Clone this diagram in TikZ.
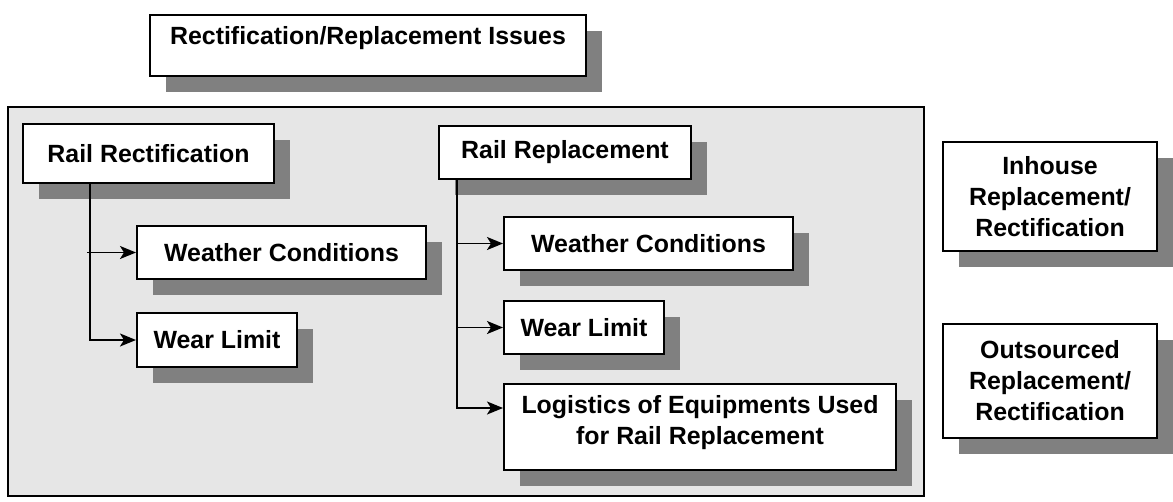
\documentclass[tikz,border=0pt]{standalone}
\usepackage{fontspec}
\setmainfont{Liberation Sans}
\usetikzlibrary{arrows.meta,shadows}
\definecolor{panelgray}{HTML}{E6E6E6}
\definecolor{shadegray}{HTML}{808080}
\begin{document}
\begin{tikzpicture}[x=1pt,y=-1pt,
  box/.style={draw=black, fill=white, line width=2pt, inner sep=0pt, align=center,
     font=\bfseries\fontsize{24.9}{31}\selectfont,
     general shadow={fill=shadegray, shadow xshift=16pt, shadow yshift=-16pt}},
  conn/.style={line width=1.8pt},
  arr/.style={conn, -{Stealth[length=16pt,width=13pt,inset=4pt]}}]
\useasboundingbox (0,0) rectangle (1173,501);
% panel
\node[draw=black, fill=panelgray, line width=1.6pt, inner sep=0pt,
      minimum width=916pt, minimum height=389pt] (panel) at (466,301.5) {};
% title
\node[box, minimum width=436pt, minimum height=61pt, text height=18pt, text depth=21pt]
  (title) at (368,45.5) {Rectification/Replacement Issues};
% left column
\node[box, minimum width=251pt, minimum height=59pt] (rl) at (148.5,153.5) {Rail Rectification};
\node[box, minimum width=289pt, minimum height=53pt] (wc1) at (281.5,252.5) {Weather Conditions};
\node[box, minimum width=160pt, minimum height=54pt] (wl1) at (217,340) {Wear Limit};
% right column
\node[box, minimum width=252pt, minimum height=53pt] (rr) at (565,152.5) {Rail Replacement};
\node[box, minimum width=289pt, minimum height=53pt] (wc2) at (648.5,243.5) {Weather Conditions};
\node[box, minimum width=160pt, minimum height=53pt] (wl2) at (584,327.5) {Wear Limit};
\node[box, minimum width=392pt, minimum height=86pt, text depth=14pt] (lg) at (700,427)
  {Logistics of Equipments Used\\for Rail Replacement};
% outside
\node[box, minimum width=214pt, minimum height=109pt] (ih) at (1050,196.5)
  {Inhouse\\Replacement/\\Rectification};
\node[box, minimum width=214pt, minimum height=114pt] (os) at (1050,381)
  {Outsourced\\Replacement/\\Rectification};
% connectors
\coordinate (lx) at ([xshift=68pt]rl.south west);
\draw[arr] (lx) |- (wl1.west);
\draw[arr] ([xshift=-3pt]lx |- wc1.west) -- (wc1.west);
\coordinate (rx) at ([xshift=19pt]rr.south west);
\draw[arr] (rx) |- ([yshift=19pt]lg.west);
\draw[arr] (rx |- wc2.west) -- (wc2.west);
\draw[arr] (rx |- wl2.west) -- (wl2.west);
\end{tikzpicture}
\end{document}
